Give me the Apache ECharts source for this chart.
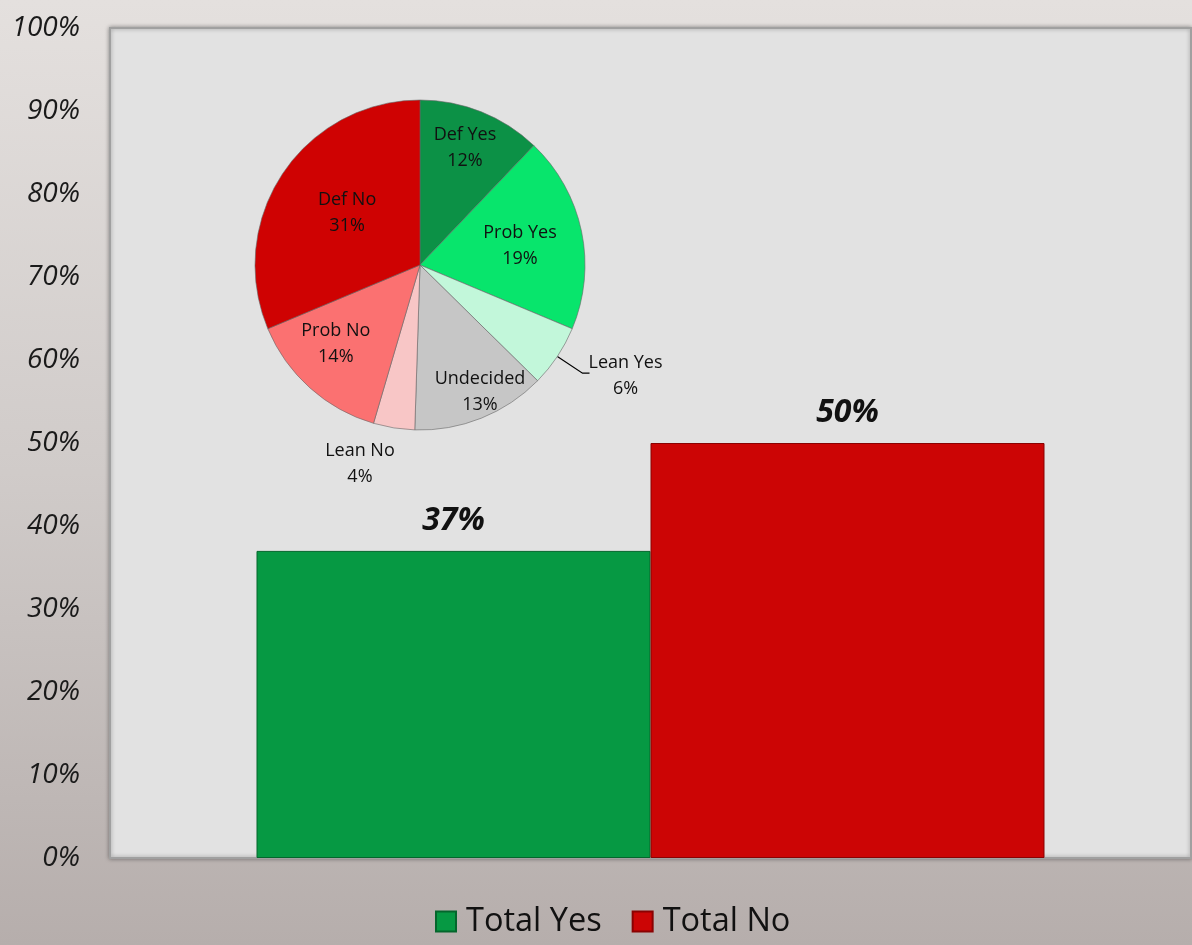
<!DOCTYPE html>
<html><head><meta charset="utf-8">
<script src="https://cdn.jsdelivr.net/npm/echarts@6/dist/echarts.min.js"></script>
<style>html,body{margin:0;padding:0;}#c{width:1192px;height:945px;}</style>
</head><body><div id="c"></div>
<script>
const barSeriesNames = ['Total Yes', 'Total No'];
const barValues = [37, 50];
const barColors = ['#069943', '#cc0505'];
const pieCategories = ['Def Yes', 'Prob Yes', 'Lean Yes', 'Undecided', 'Lean No', 'Prob No', 'Def No'];
const pieValues = [12, 19, 6, 13, 4, 14, 31];
const pieColors = ['#0c9146', '#08e56c', '#c2f7da', '#c6c6c6', '#f8c6c6', '#fb7171', '#cf0202'];
const yTicks = [0, 10, 20, 30, 40, 50, 60, 70, 80, 90, 100];

// layout (not data): pie placement and label radial placement
const PIE_CX = 420, PIE_CY = 265, PIE_R = 165;
const labelRadiusRatio = [0.76, 0.617, 1.0, 0.85, 1.26, 0.70, 0.543];
const labelAngleShift = [-0.8, 1.0, 0, -3.5, 7.7, 5.0, 1.9];

const chart = echarts.init(document.getElementById('c'), null, {renderer: 'canvas'});
const pieData = pieCategories.map((n, i) => {
  const d = {name: n, value: pieValues[i], itemStyle: {color: pieColors[i]}};
  if (n === 'Lean Yes') {
    d.label = {position: 'outside'};
    d.labelLine = {show: true, length: 14, length2: 6, lineStyle: {color: '#000', width: 1.2}};
  }
  return d;
});
const pieTotal = pieValues.reduce((a, b) => a + b, 0);
const midAngles = [];
(function () {
  let cum = 0;
  pieValues.forEach(v => { midAngles.push((cum + v / 2) / pieTotal * 360); cum += v; });
})();

function pieLabelLayout(params) {
  const i = params.dataIndex;
  const a = (midAngles[i] + labelAngleShift[i]) * Math.PI / 180;
  const sx = Math.sin(a), sy = -Math.cos(a);
  if (pieCategories[i] === 'Lean Yes') {
    const am = midAngles[i] * Math.PI / 180;
    const ex = Math.sin(am), ey = -Math.cos(am);
    const p0 = [PIE_CX + PIE_R * ex, PIE_CY + PIE_R * ey];
    const p1 = [PIE_CX + (PIE_R + 23) * ex + 6, PIE_CY + (PIE_R + 23) * ey + 4];
    const p2 = [p1[0] + 7, p1[1]];
    return {
      x: p2[0] - 1 + params.labelRect.width / 2, y: p2[1] + 3,
      align: 'center', verticalAlign: 'middle',
      labelLinePoints: [p0, p1, p2]
    };
  }
  const d = PIE_R * labelRadiusRatio[i];
  return {x: PIE_CX + d * sx, y: PIE_CY + d * sy, align: 'center', verticalAlign: 'middle'};
}

const FONT = 'Open Sans';
const option = {
  backgroundColor: {
    type: 'linear', x: 0, y: 0, x2: 0, y2: 1,
    colorStops: [{offset: 0, color: '#e4e0de'}, {offset: 0.5, color: '#d0cbc9'}, {offset: 1, color: '#b6aeac'}]
  },
  animation: false,
  grid: {
    left: 110, right: 1, top: 28, bottom: 87, show: true,
    backgroundColor: '#e2e2e2', borderColor: '#a0a0a0', borderWidth: 2,
    shadowColor: 'rgba(0,0,0,0.35)', shadowBlur: 4
  },
  legend: {
    bottom: 2, left: 430, icon: 'rect', itemWidth: 20, itemHeight: 20, itemGap: 30,
    textStyle: {fontSize: 32.5, color: '#111', fontFamily: FONT, padding: [0, 0, 0, 5]},
    data: barSeriesNames
  },
  xAxis: {
    type: 'category', data: [''],
    axisLine: {show: false}, axisTick: {show: false}, axisLabel: {show: false}
  },
  yAxis: {
    type: 'value', min: yTicks[0], max: yTicks[yTicks.length - 1], interval: 10,
    splitLine: {show: false}, axisLine: {show: false}, axisTick: {show: false},
    axisLabel: {formatter: '{value}%', fontSize: 28, fontStyle: 'italic', color: '#1a1a1a', margin: 30, fontFamily: FONT}
  },
  series: barSeriesNames.map((n, i) => ({
    name: n, type: 'bar', data: [barValues[i]], barWidth: 394, barGap: '0%',
    itemStyle: {color: barColors[i], borderColor: i === 0 ? '#04662c' : '#8a0202', borderWidth: 1},
    label: {show: true, position: 'top', distance: 14, formatter: '{c}%', fontSize: 32, fontWeight: 'bold', fontStyle: 'italic', color: '#111', fontFamily: FONT}
  })).concat([{
    type: 'pie', center: [PIE_CX, PIE_CY], radius: PIE_R, startAngle: 90, clockwise: true,
    data: pieData, legendHoverLink: false,
    itemStyle: {borderColor: '#666', borderWidth: 0.6},
    label: {show: true, position: 'inside', fontSize: 18, color: '#111', lineHeight: 26, fontFamily: FONT,
      formatter: p => p.name + '\n' + p.value + '%'},
    labelLine: {show: false},
    labelLayout: pieLabelLayout
  }])
};
chart.setOption(option);
</script>
</body></html>
